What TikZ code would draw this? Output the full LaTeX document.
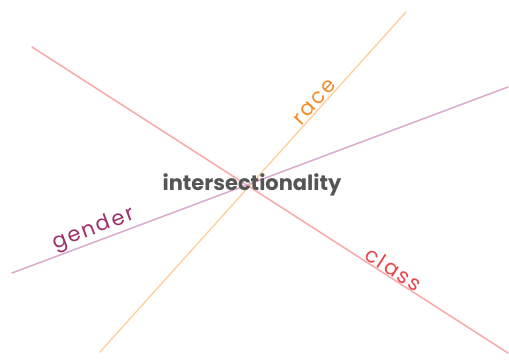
\documentclass[tikz,border=0pt]{standalone}
\usepackage{fontspec}
\setmainfont{Poppins}
\newfontfamily\tagfont[LetterSpace=10]{Poppins}
\usetikzlibrary{positioning}

\definecolor{classline}{HTML}{F6AAAA}
\definecolor{classtext}{HTML}{E8474A}
\definecolor{raceline}{HTML}{FDD2A6}
\definecolor{racetext}{HTML}{F28B2A}
\definecolor{genderline}{HTML}{D9AACB}
\definecolor{gendertext}{HTML}{9E2F68}
\definecolor{hubtext}{HTML}{555555}

\begin{document}
\begin{tikzpicture}[
    x=1pt, y=-1pt,
    axis/.style={line width=1.5pt, line cap=round},
    tag/.style={sloped, above, inner sep=0.5pt, font=\tagfont\fontsize{21}{21}\selectfont},
    hub/.style={font=\fontsize{21}{22}\selectfont\bfseries, text=hubtext}
  ]
  \useasboundingbox (0,0) rectangle (509,360);

  % ===== end points of the three axes =====
  \coordinate (classA)  at (32,47);
  \coordinate (classB)  at (508,353);
  \coordinate (raceA)   at (100,352);
  \coordinate (raceB)   at (406,12);
  \coordinate (genderA) at (12,273);
  \coordinate (genderB) at (508,87);

  % ===== axes with their labels =====
  \draw[axis, classline] (classA) -- (classB)
    node[tag, pos=0.75, text=classtext] (class) {class};
  \draw[axis, raceline] (raceA) -- (raceB)
    node[tag, pos=0.72, text=racetext] (race) {race};
  \draw[axis, genderline] (genderA) -- (genderB)
    node[tag, pos=0.173, text=gendertext] (gender) {gender};

  % ===== centre label =====
  \node[hub] (inter) at (252,185) {intersectionality};

\end{tikzpicture}
\end{document}
